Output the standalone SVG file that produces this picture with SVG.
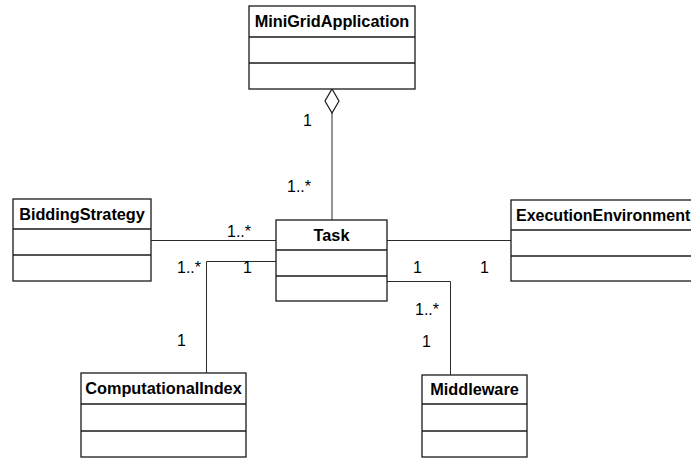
<svg xmlns="http://www.w3.org/2000/svg" width="691" height="458" viewBox="0 0 691 458">
  <style>
    .box { fill: #ffffff; stroke: #1a1a1a; stroke-width: 1.3; }
    .sep { stroke: #1a1a1a; stroke-width: 1.3; }
    .name { font-family: "Liberation Sans", Arial, sans-serif; font-size: 16.3px; font-weight: bold; fill: #000; text-anchor: middle; }
    .conn { fill: none; stroke: #2a2a2a; stroke-width: 1; }
    .mult { font-family: "Liberation Sans", Arial, sans-serif; font-size: 16px; fill: #000; }
  </style>
  <rect width="691" height="458" fill="#ffffff"/>

  <!-- connectors -->
  <g id="connectors">
    <!-- aggregation: MiniGridApplication (whole) to Task -->
    <polyline class="conn" points="332,113 332,220"/>
    <polygon points="332,89 339,101 332,113 325,101" fill="#ffffff" stroke="#1a1a1a" stroke-width="1.2"/>
    <!-- BiddingStrategy - Task -->
    <line class="conn" x1="151" y1="240.5" x2="276" y2="240.5"/>
    <!-- Task - ExecutionEnvironment -->
    <line class="conn" x1="387" y1="240.5" x2="511" y2="240.5"/>
    <!-- Task - ComputationalIndex -->
    <polyline class="conn" points="276,261.5 206.5,261.5 206.5,373"/>
    <!-- Task - Middleware -->
    <polyline class="conn" points="387,281.5 450.5,281.5 450.5,375"/>

    <text class="mult" x="303" y="126">1</text>
    <text class="mult" x="287" y="192">1..*</text>
    <text class="mult" x="227" y="237">1..*</text>
    <text class="mult" x="177" y="273">1..*</text>
    <text class="mult" x="243" y="273">1</text>
    <text class="mult" x="413" y="273">1</text>
    <text class="mult" x="480" y="273">1</text>
    <text class="mult" x="415" y="315">1..*</text>
    <text class="mult" x="422" y="347">1</text>
    <text class="mult" x="177" y="346">1</text>
  </g>

  <g id="MiniGridApplication">
    <rect class="box" x="249" y="6" width="166" height="83"/>
    <line class="sep" x1="249" y1="37" x2="415" y2="37"/>
    <line class="sep" x1="249" y1="63" x2="415" y2="63"/>
    <text class="name" x="332" y="27">MiniGridApplication</text>
  </g>

  <g id="Task">
    <rect class="box" x="276" y="220" width="111" height="81"/>
    <line class="sep" x1="276" y1="250" x2="387" y2="250"/>
    <line class="sep" x1="276" y1="276" x2="387" y2="276"/>
    <text class="name" x="331.5" y="241">Task</text>
  </g>

  <g id="BiddingStrategy">
    <rect class="box" x="13" y="199" width="138" height="82"/>
    <line class="sep" x1="13" y1="229" x2="151" y2="229"/>
    <line class="sep" x1="13" y1="255" x2="151" y2="255"/>
    <text class="name" x="82" y="220">BiddingStrategy</text>
  </g>

  <g id="ExecutionEnvironment">
    <rect class="box" x="511" y="200" width="190" height="81"/>
    <line class="sep" x1="511" y1="230" x2="701" y2="230"/>
    <line class="sep" x1="511" y1="256" x2="701" y2="256"/>
    <text class="name" x="516" y="221" style="text-anchor:start; font-size:16px">ExecutionEnvironment</text>
  </g>

  <g id="ComputationalIndex">
    <rect class="box" x="81" y="373" width="165" height="84"/>
    <line class="sep" x1="81" y1="404" x2="246" y2="404"/>
    <line class="sep" x1="81" y1="431" x2="246" y2="431"/>
    <text class="name" x="163.5" y="394">ComputationalIndex</text>
  </g>

  <g id="Middleware">
    <rect class="box" x="422" y="375" width="105" height="82"/>
    <line class="sep" x1="422" y1="404" x2="527" y2="404"/>
    <line class="sep" x1="422" y1="431" x2="527" y2="431"/>
    <text class="name" x="474.5" y="395">Middleware</text>
  </g>
</svg>
